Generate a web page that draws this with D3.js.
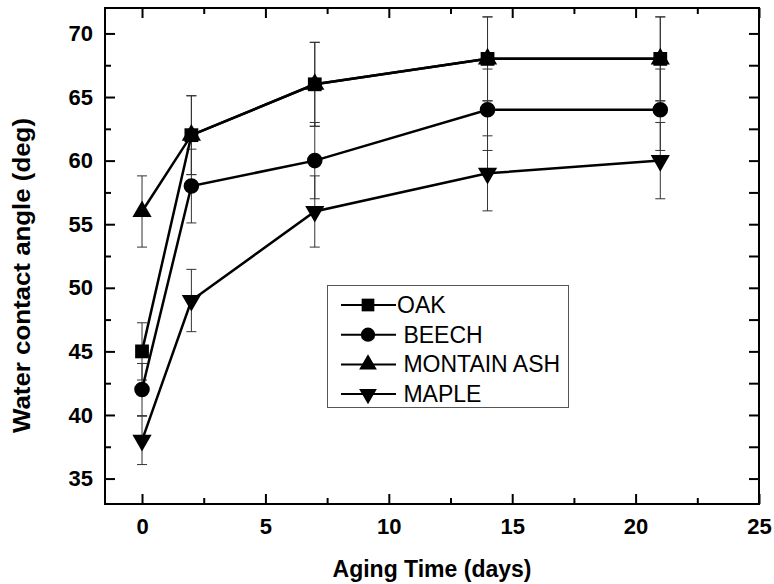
<!DOCTYPE html>
<html>
<head>
<meta charset="utf-8">
<script src="https://cdn.jsdelivr.net/npm/d3@7"></script>
<style>
  body { margin: 0; background: #fff; }
  svg { display: block; font-family: "Liberation Sans", Arial, sans-serif; }
</style>
</head>
<body>
<div id="chart"></div>
<script>
// aging time (days) and water contact angle (deg) per wood species
const days = [0, 2, 7, 14, 21];
const seriesNames = ['OAK', 'BEECH', 'MONTAIN ASH', 'MAPLE'];
const legendLabels = ['OAK', ' BEECH', ' MONTAIN ASH', ' MAPLE'];
const oak = [45, 62, 66, 68, 68];
const oakErr = [2.25, 3.1, 3.3, 3.3, 3.3];
const beech = [42, 58, 60, 64, 64];
const beechErr = [2.05, 2.9, 3.0, 3.2, 3.2];
const montainAsh = [56, 62, 66, 68, 68];
const montainAshErr = [2.8, 3.1, 3.3, 3.3, 3.3];
const maple = [38, 49, 56, 59, 60];
const mapleErr = [1.9, 2.45, 2.8, 2.95, 3.0];

const xMajor = [0, 5, 10, 15, 20, 25];
const xMinor = [2.5, 7.5, 12.5, 17.5, 22.5];
const yMajor = [35, 40, 45, 50, 55, 60, 65, 70];
const yMinor = [37.5, 42.5, 47.5, 52.5, 57.5, 62.5, 67.5];

const width = 774;
const height = 584;
const margin = {top: 8, right: 15, bottom: 80, left: 105};

const series = [
  {name: seriesNames[0], label: legendLabels[0], values: oak, err: oakErr, symbol: d3.symbolSquare, size: 190, rotate: 0},
  {name: seriesNames[1], label: legendLabels[1], values: beech, err: beechErr, symbol: d3.symbolCircle, size: 190, rotate: 0},
  {name: seriesNames[2], label: legendLabels[2], values: montainAsh, err: montainAshErr, symbol: d3.symbolTriangle, size: 160, rotate: 0},
  {name: seriesNames[3], label: legendLabels[3], values: maple, err: mapleErr, symbol: d3.symbolTriangle, size: 160, rotate: 180}
];

const x = d3.scaleLinear()
    .domain([-1.5, 25])
    .range([margin.left, width - margin.right]);

const y = d3.scaleLinear()
    .domain([33, 72])
    .range([height - margin.bottom, margin.top]);

const svg = d3.select('#chart')
  .append('svg')
    .attr('width', width)
    .attr('height', height);

const [x0, x1] = x.range();
const [y0, y1] = y.range();

// axes with inward ticks on all four sides
function styleAxis(g) {
  g.select('.domain').remove();
  g.selectAll('line').attr('stroke', '#000').attr('stroke-width', 2);
  g.selectAll('text')
      .attr('fill', '#000')
      .attr('font-size', 22)
      .attr('font-weight', 'bold')
      .attr('font-family', '"Liberation Sans", Arial, sans-serif');
}

svg.append('g')
    .attr('transform', `translate(0,${y0})`)
    .call(d3.axisBottom(x).tickValues(xMajor).tickSize(-10).tickPadding(14).tickFormat(d3.format('d')))
    .call(styleAxis);
svg.append('g')
    .attr('transform', `translate(0,${y0})`)
    .call(d3.axisBottom(x).tickValues(xMinor).tickSize(-6).tickFormat(''))
    .call(styleAxis);
svg.append('g')
    .attr('transform', `translate(0,${y1})`)
    .call(d3.axisTop(x).tickValues(xMajor).tickSize(-10).tickFormat(''))
    .call(styleAxis);
svg.append('g')
    .attr('transform', `translate(0,${y1})`)
    .call(d3.axisTop(x).tickValues(xMinor).tickSize(-6).tickFormat(''))
    .call(styleAxis);

svg.append('g')
    .attr('transform', `translate(${x0},0)`)
    .call(d3.axisLeft(y).tickValues(yMajor).tickSize(-10).tickPadding(12).tickFormat(d3.format('d')))
    .call(styleAxis);
svg.append('g')
    .attr('transform', `translate(${x0},0)`)
    .call(d3.axisLeft(y).tickValues(yMinor).tickSize(-6).tickFormat(''))
    .call(styleAxis);
svg.append('g')
    .attr('transform', `translate(${x1},0)`)
    .call(d3.axisRight(y).tickValues(yMajor.concat(yMinor)).tickSize(-10).tickFormat(''))
    .call(styleAxis);

svg.append('rect')
    .attr('x', x0)
    .attr('y', y1)
    .attr('width', x1 - x0)
    .attr('height', y0 - y1)
    .attr('fill', 'none')
    .attr('stroke', '#000')
    .attr('stroke-width', 2);

// axis titles
svg.append('text')
    .attr('x', (x0 + x1) / 2)
    .attr('y', 577)
    .attr('text-anchor', 'middle')
    .attr('font-size', 23)
    .attr('font-weight', 'bold')
    .text('Aging Time (days)');

svg.append('text')
    .attr('transform', 'translate(30,275.5) rotate(-90)')
    .attr('text-anchor', 'middle')
    .attr('font-size', 23)
    .attr('font-weight', 'bold')
    .attr('textLength', 315)
    .attr('lengthAdjust', 'spacingAndGlyphs')
    .text('Water contact angle (deg)');

// error bars
const capHalf = 5;
const errG = svg.append('g')
    .attr('stroke', '#333')
    .attr('stroke-width', 1)
    .attr('fill', 'none');

series.forEach(s => {
  const pts = days.map((d, i) => ({d, v: s.values[i], e: s.err[i]}));
  const bars = errG.append('g').selectAll('g')
    .data(pts)
    .join('g');
  bars.append('line')
      .attr('x1', p => x(p.d)).attr('x2', p => x(p.d))
      .attr('y1', p => y(p.v - p.e)).attr('y2', p => y(p.v + p.e));
  bars.append('line')
      .attr('x1', p => x(p.d) - capHalf).attr('x2', p => x(p.d) + capHalf)
      .attr('y1', p => y(p.v + p.e)).attr('y2', p => y(p.v + p.e));
  bars.append('line')
      .attr('x1', p => x(p.d) - capHalf).attr('x2', p => x(p.d) + capHalf)
      .attr('y1', p => y(p.v - p.e)).attr('y2', p => y(p.v - p.e));
});

// lines
const line = d3.line()
    .x((v, i) => x(days[i]))
    .y(v => y(v));

svg.append('g')
  .selectAll('path')
  .data(series)
  .join('path')
    .attr('d', s => line(s.values))
    .attr('fill', 'none')
    .attr('stroke', '#000')
    .attr('stroke-width', 2.5);

// markers
series.forEach(s => {
  svg.append('g')
    .selectAll('path')
    .data(s.values)
    .join('path')
      .attr('transform', (v, i) => `translate(${x(days[i])},${y(v)}) rotate(${s.rotate})`)
      .attr('d', d3.symbol(s.symbol, s.size))
      .attr('fill', '#000');
});

// legend
const legend = svg.append('g');
legend.append('rect')
    .attr('x', 327.5)
    .attr('y', 285.5)
    .attr('width', 241)
    .attr('height', 122)
    .attr('fill', '#fff')
    .attr('stroke', '#555')
    .attr('stroke-width', 1);

const rows = legend.selectAll('g.row')
  .data(series)
  .join('g')
    .attr('class', 'row')
    .attr('transform', (s, i) => `translate(0,${305 + i * 29.7})`);

rows.append('line')
    .attr('x1', 341).attr('x2', 396)
    .attr('stroke', '#000')
    .attr('stroke-width', 2);
rows.append('path')
    .attr('transform', s => `translate(368,0) rotate(${s.rotate})`)
    .attr('d', s => d3.symbol(s.symbol, s.size * 0.85)())
    .attr('fill', '#000');
rows.append('text')
    .attr('x', 397)
    .attr('y', 8)
    .attr('font-size', 23)
    .style('white-space', 'pre')
    .text(s => s.label);
</script>
</body>
</html>
